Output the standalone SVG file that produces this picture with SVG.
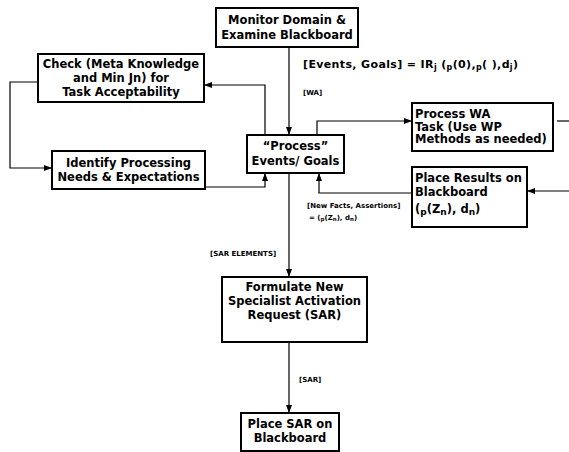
<svg xmlns="http://www.w3.org/2000/svg" width="569" height="452" viewBox="0 0 569 452">
<defs>
<marker id="ah" markerWidth="8" markerHeight="6" refX="7" refY="3" orient="auto" markerUnits="userSpaceOnUse">
<path d="M0,0 L8,3 L0,6 Z" fill="#000"/>
</marker>
<style>
.box{fill:#fff;stroke:#000;stroke-width:2}
.t{font-family:"DejaVu Sans",Verdana,sans-serif;font-weight:bold;font-size:11.5px;fill:#000}
.c{text-anchor:middle}
.s{font-family:"DejaVu Sans",Verdana,sans-serif;font-weight:bold;font-size:7px;fill:#000}
.m{font-family:"DejaVu Sans",Verdana,sans-serif;font-weight:bold;font-size:11px;fill:#000}
.ln{fill:none;stroke:#000;stroke-width:1.2}
</style>
</defs>
<rect width="569" height="452" fill="#fff"/>
<g id="connectors">
<path class="ln" d="M289,47 V134" marker-end="url(#ah)"/>
<path class="ln" d="M265,135 V85 H205" marker-end="url(#ah)"/>
<path class="ln" d="M38,82 H10 V168 H51" marker-end="url(#ah)"/>
<path class="ln" d="M205,187 H265 V174" marker-end="url(#ah)"/>
<path class="ln" d="M317,135 V121 H411" marker-end="url(#ah)"/>
<path class="ln" d="M557,121 H569"/>
<path class="ln" d="M569,191 H528" marker-end="url(#ah)"/>
<path class="ln" d="M412,193 H319 V174" marker-end="url(#ah)"/>
<path class="ln" d="M289,173 V276" marker-end="url(#ah)"/>
<path class="ln" d="M289,342 V412" marker-end="url(#ah)"/>
</g>
<g id="monitor">
<rect class="box" x="216" y="8" width="142" height="39"/>
<text class="t c" x="287" y="24">Monitor Domain &amp;</text>
<text class="t c" x="287" y="39">Examine Blackboard</text>
</g>
<g id="check">
<rect class="box" x="38" y="54" width="166" height="48"/>
<text class="t c" x="121" y="68">Check (Meta Knowledge</text>
<text class="t c" x="121" y="82">and Min Jn) for</text>
<text class="t c" x="121" y="96">Task Acceptability</text>
</g>
<g id="process">
<rect class="box" x="247" y="135" width="97" height="38"/>
<text class="t c" x="295.5" y="150">“Process”</text>
<text class="t c" x="295.5" y="165">Events/ Goals</text>
</g>
<g id="processwa">
<rect class="box" x="412" y="103" width="141" height="48"/>
<text class="t" x="415" y="118">Process WA</text>
<text class="t" x="415" y="130.5">Task (Use WP</text>
<text class="t" x="415" y="143">Methods as needed)</text>
</g>
<g id="identify">
<rect class="box" x="52" y="151" width="153" height="38"/>
<text class="t c" x="128.5" y="167" font-size="11">Identify Processing</text>
<text class="t c" x="128.5" y="181" font-size="11">Needs &amp; Expectations</text>
</g>
<g id="placeresults">
<rect class="box" x="412" y="167" width="115" height="60"/>
<text class="t" x="415" y="182">Place Results on</text>
<text class="t" x="415" y="196">Blackboard</text>
<text class="t" x="415" y="213" font-size="13">(<tspan font-size="9" dy="2">p</tspan><tspan dy="-2">(Z</tspan><tspan font-size="9" dy="2">n</tspan><tspan dy="-2">), d</tspan><tspan font-size="9" dy="2">n</tspan><tspan dy="-2">)</tspan></text>
</g>
<g id="formulate">
<rect class="box" x="222" y="277" width="145" height="65"/>
<text class="t c" x="294.5" y="291">Formulate New</text>
<text class="t c" x="294.5" y="305">Specialist Activation</text>
<text class="t c" x="294.5" y="319">Request (SAR)</text>
</g>
<g id="placesar">
<rect class="box" x="241" y="413" width="98" height="38"/>
<text class="t c" x="290" y="428">Place SAR on</text>
<text class="t c" x="290" y="442">Blackboard</text>
</g>
<g id="labels">
<text class="m" x="303" y="68" textLength="215" lengthAdjust="spacing">[Events, Goals]  =  IR<tspan font-size="8" dy="2">j</tspan><tspan dy="-2"> (</tspan><tspan font-size="8" dy="2">p</tspan><tspan dy="-2">(0),</tspan><tspan font-size="8" dy="2">p</tspan><tspan dy="-2">(    ),d</tspan><tspan font-size="8" dy="2">j</tspan><tspan dy="-2">)</tspan></text>
<text class="s" x="303" y="95" font-size="9.5">[WA]</text>
<text class="s" x="307" y="208">[New Facts, Assertions]</text>
<text class="s" x="309" y="220">= (<tspan font-size="5.5" dy="1">p</tspan><tspan dy="-1">(Z</tspan><tspan font-size="5.5" dy="1">n</tspan><tspan dy="-1">), d</tspan><tspan font-size="5.5" dy="1">n</tspan><tspan dy="-1">)</tspan></text>
<text class="s" x="210" y="256">[SAR ELEMENTS]</text>
<text class="s" x="299" y="382" font-size="7.5">[SAR]</text>
</g>
</svg>
